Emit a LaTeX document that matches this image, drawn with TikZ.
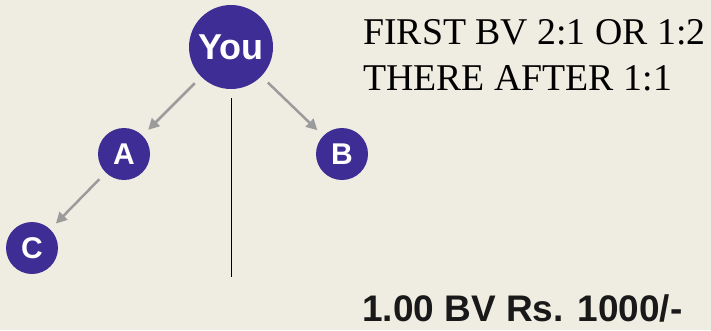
\documentclass[tikz,border=0pt]{standalone}
\usepackage{fontspec}
\setmainfont{Liberation Serif}
\setsansfont{Liberation Sans}
\usetikzlibrary{arrows.meta}
\definecolor{bg}{RGB}{239,237,225}
\definecolor{circ}{RGB}{62,45,148}
\definecolor{arr}{RGB}{155,155,155}
\tikzset{
  ball/.style={circle,fill=circ,text=white,inner sep=0pt,font=\sffamily\bfseries},
  conn/.style={draw=arr,line width=2.5pt,-{Triangle[length=11pt,width=11pt]},shorten <=9pt,shorten >=8pt}
}
\begin{document}
\begin{tikzpicture}[x=1pt,y=-1pt]
\fill[bg] (0,0) rectangle (711,330);
\useasboundingbox (0,0) rectangle (711,330);
\node[ball,minimum size=84pt,font=\sffamily\bfseries\fontsize{36}{36}\selectfont] (You) at (231,47) {You};
\node[ball,minimum size=52pt,font=\sffamily\bfseries\fontsize{30}{30}\selectfont] (A) at (124,154) {A};
\node[ball,minimum size=52pt,font=\sffamily\bfseries\fontsize{30}{30}\selectfont] (B) at (342,154) {B};
\node[ball,minimum size=52pt,font=\sffamily\bfseries\fontsize{30}{30}\selectfont] (C) at (32,248) {C};
\draw[conn] (You) -- (A);
\draw[conn] (You) -- (B);
\draw[conn] (A) -- (C);
\coordinate (vtop) at (231,98);
\coordinate (vbot) at (231,277);
\draw[line width=1pt] (vtop) -- (vbot);
\node[anchor=base west,inner sep=0pt,font=\fontsize{37.8}{46}\selectfont] (t1) at (363,44) {FIRST BV 2:1 OR 1:2};
\node[anchor=base west,inner sep=0pt,font=\fontsize{37.8}{46}\selectfont] (t2) at (363,90) {THERE AFTER 1:1};
\node[anchor=base west,inner sep=0pt,text={rgb,255:red,25;green,25;blue,25},font=\sffamily\bfseries\fontsize{37}{44}\selectfont] (t3) at (362,321) {1.00 BV Rs. 1000/-};
\end{tikzpicture}
\end{document}
